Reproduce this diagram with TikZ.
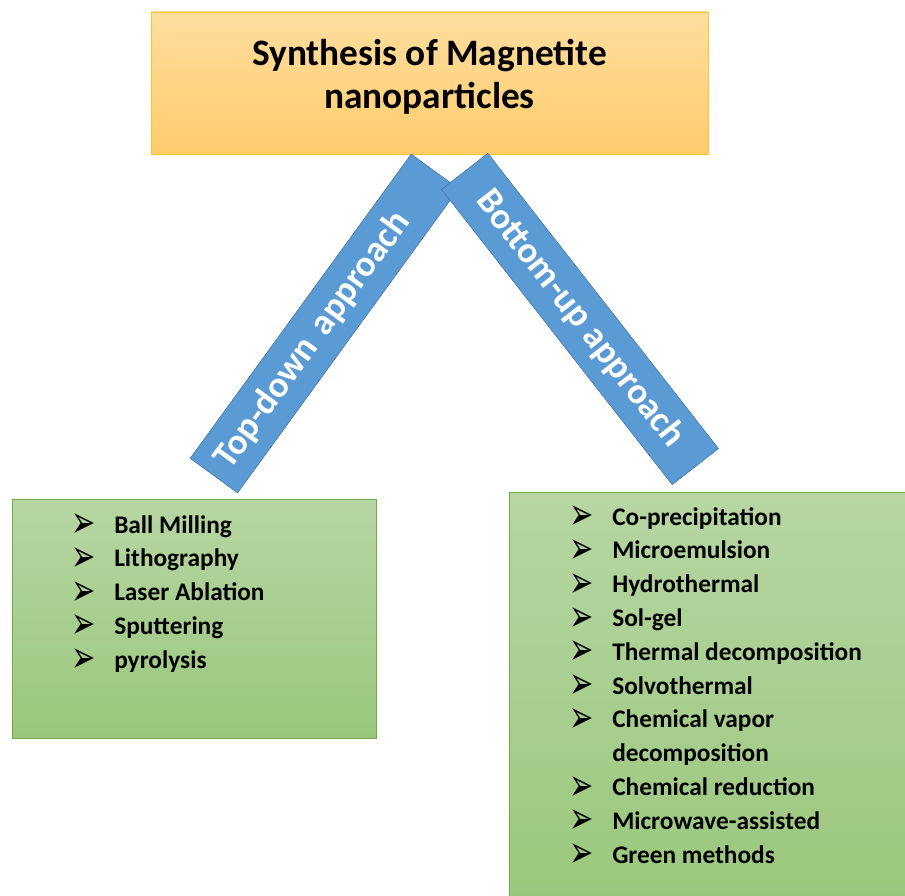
\documentclass[tikz,border=0pt]{standalone}
\usepackage{fontspec}
\setmainfont{Carlito}
\newfontfamily\dejavu{DejaVu Sans}

\definecolor{titletop}{RGB}{255,222,160}
\definecolor{titlebot}{RGB}{255,204,108}
\definecolor{titleline}{RGB}{255,196,40}
\definecolor{bandfill}{RGB}{91,155,213}
\definecolor{bandline}{RGB}{65,113,156}
\definecolor{listtop}{RGB}{183,214,163}
\definecolor{listbot}{RGB}{154,199,124}
\definecolor{listline}{RGB}{112,173,71}

\newcommand\bul{\makebox[30.75pt][l]{\hspace*{-1.5pt}\raisebox{-3.5pt}{\scalebox{1.07}[1.65]{\resizebox{17pt}{!}{\dejavu ➢}}}}}

\tikzset{
  titlebox/.style={draw=titleline, top color=titletop, bottom color=titlebot,
    minimum width=417.75pt, minimum height=106.5pt, align=center, text depth=14pt,
    font=\fontsize{28}{32.25}\selectfont\bfseries},
  band/.style={draw=bandline, fill=bandfill, text=white, minimum height=44pt,
    inner sep=0pt, font=\fontsize{27.5}{32}\selectfont\bfseries},
  listbox/.style={draw=listline, top color=listtop, bottom color=listbot},
  item/.style={anchor=base west, inner sep=0pt,
    font=\fontsize{19}{23}\selectfont\bfseries},
}

\begin{document}
\begin{tikzpicture}[x=0.75pt,y=-0.75pt]
    \clip (0,0) rectangle (905,895);
    \node[titlebox] (title) at (429.5,83) {Synthesis of Magnetite\\nanoparticles};
    \node[listbox, minimum width=273pt, minimum height=179.25pt] (topdownlist) at (194,618.5) {};
    \node[listbox, minimum width=304.5pt, minimum height=309.75pt] (bottomuplist) at (712,698.5) {};

    % the two slanted bands
    \node[band, rotate=54, text width=261pt, align=left, inner xsep=10.5pt] (topdown) at (324.4,323.5) {Top-down approach};
    \node[band, rotate=-52, minimum width=281pt] (bottomup) at (580,319) {Bottom-up approach};

    % methods
    \foreach \txt [count=\i from 0] in {Ball Milling, Lithography, Laser Ablation, Sputtering, pyrolysis}
        \node[item] (td\i) at (73,533+33.75*\i) {\bul\txt};
    \foreach \k/\txt in {0/Co-precipitation, 1/Microemulsion, 2/Hydrothermal, 3/Sol-gel,
        4/Thermal decomposition, 5/Solvothermal, 6/Chemical vapor, 8/Chemical reduction,
        9/Microwave-assisted, 10/Green methods}
        \node[item] (bu\k) at (571,525+33.8*\k) {\bul\txt};
    \node[item] (bu7) at (612,525+33.8*7) {decomposition};
\end{tikzpicture}
\end{document}
